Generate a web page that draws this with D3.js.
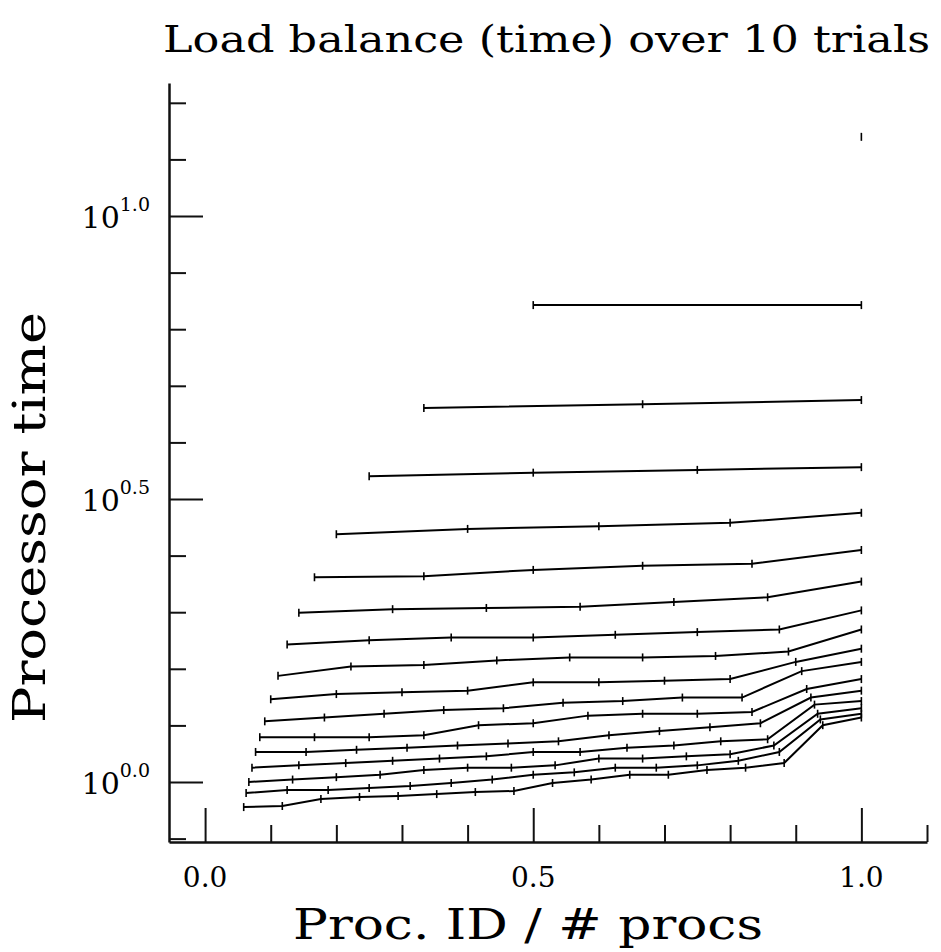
<!DOCTYPE html>
<html>
<head>
<meta charset="utf-8">
<script src="https://cdn.jsdelivr.net/npm/d3@7"></script>
<style>
  body { margin: 0; background: #fff; }
  text { font-family: "DejaVu Serif", serif; fill: #000; }
</style>
</head>
<body>
<svg id="chart" width="941" height="952"></svg>
<script>
// processor counts, one curve per count (x = proc id / # procs)
const procCounts = [1, 2, 3, 4, 5, 6, 7, 8, 9, 10, 11, 12, 13, 14, 15, 16, 17];

// processor times, one array per processor count
const t1 = [13.8];
const t2 = [6.96, 6.96];
const t3 = [4.58, 4.65, 4.73];
const t4 = [3.47, 3.52, 3.56, 3.60];
const t5 = [2.74, 2.80, 2.83, 2.87, 2.99];
const t6 = [2.30, 2.31, 2.37, 2.41, 2.43, 2.57];
const t7 = [1.99, 2.02, 2.03, 2.04, 2.08, 2.12, 2.26];
const t8 = [1.75, 1.78, 1.80, 1.80, 1.82, 1.84, 1.86, 2.01];
const t9 = [1.54, 1.60, 1.61, 1.64, 1.66, 1.66, 1.67, 1.70, 1.86];
const t10 = [1.40, 1.43, 1.44, 1.45, 1.50, 1.50, 1.51, 1.52, 1.63, 1.72];
const t11 = [1.28, 1.30, 1.32, 1.34, 1.35, 1.38, 1.39, 1.41, 1.41, 1.57, 1.63];
const t12 = [1.20, 1.20, 1.20, 1.21, 1.26, 1.27, 1.31, 1.32, 1.32, 1.33, 1.46, 1.52];
const t13 = [1.13, 1.13, 1.14, 1.15, 1.16, 1.17, 1.18, 1.21, 1.23, 1.25, 1.27, 1.41, 1.45];
const t14 = [1.06, 1.07, 1.08, 1.09, 1.10, 1.11, 1.13, 1.13, 1.15, 1.16, 1.18, 1.19, 1.37, 1.39];
const t15 = [1.00, 1.01, 1.02, 1.03, 1.05, 1.06, 1.06, 1.07, 1.10, 1.10, 1.11, 1.12, 1.16, 1.32, 1.35];
const t16 = [0.956, 0.968, 0.968, 0.976, 0.984, 0.996, 1.01, 1.03, 1.04, 1.06, 1.06, 1.07, 1.09, 1.13, 1.29, 1.32];
const t17 = [0.903, 0.907, 0.933, 0.941, 0.945, 0.952, 0.960, 0.964, 0.996, 1.01, 1.03, 1.03, 1.05, 1.06, 1.08, 1.26, 1.30];

const xMajor = [0.0, 0.5, 1.0];
const xMinor = [0.1, 0.2, 0.3, 0.4, 0.6, 0.7, 0.8, 0.9, 1.1];
const xLabels = ['0.0', '0.5', '1.0'];
const yMajorExp = [0.0, 0.5, 1.0];
const yMinorExp = [-0.1, 0.1, 0.2, 0.3, 0.4, 0.6, 0.7, 0.8, 0.9, 1.1, 1.2];
const yLabels = ['0.0', '0.5', '1.0'];

const series = [t1, t2, t3, t4, t5, t6, t7, t8, t9, t10, t11, t12, t13, t14, t15, t16, t17];

const svg = d3.select('#chart');

const x = d3.scaleLinear().domain([-0.055, 1.1]).range([169, 927]);
const y = d3.scaleLog().domain([Math.pow(10, -0.106), Math.pow(10, 1.235)]).range([842, 83]);

const axisColor = '#111';

// x axis: ticks point up into the plot
svg.append('g')
  .attr('transform', 'translate(0,842)')
  .call(d3.axisBottom(x).tickValues(xMinor).tickSize(-17).tickSizeOuter(0).tickFormat(''))
  .call(g => g.select('.domain').attr('stroke-width', 2.5).attr('stroke', axisColor))
  .call(g => g.selectAll('.tick line').attr('stroke-width', 2).attr('stroke', axisColor));

svg.append('g')
  .attr('transform', 'translate(0,842)')
  .call(d3.axisBottom(x).tickValues(xMajor).tickSize(-34).tickSizeOuter(0).tickFormat(''))
  .call(g => g.select('.domain').remove())
  .call(g => g.selectAll('.tick line').attr('stroke-width', 2).attr('stroke', axisColor));

// y axis: ticks point right into the plot
svg.append('g')
  .attr('transform', 'translate(169,0)')
  .call(d3.axisLeft(y).tickValues(yMinorExp.map(e => Math.pow(10, e))).tickSize(-17).tickSizeOuter(0).tickFormat(''))
  .call(g => g.select('.domain').attr('stroke-width', 2.5).attr('stroke', axisColor))
  .call(g => g.selectAll('.tick line').attr('stroke-width', 2).attr('stroke', axisColor));

svg.append('g')
  .attr('transform', 'translate(169,0)')
  .call(d3.axisLeft(y).tickValues(yMajorExp.map(e => Math.pow(10, e))).tickSize(-34).tickSizeOuter(0).tickFormat(''))
  .call(g => g.select('.domain').remove())
  .call(g => g.selectAll('.tick line').attr('stroke-width', 2).attr('stroke', axisColor));

// tick labels
svg.append('g').selectAll('text')
  .data(xMajor)
  .join('text')
    .attr('x', d => x(d))
    .attr('y', 887)
    .attr('text-anchor', 'middle')
    .style('font-size', '28px')
    .text((d, i) => xLabels[i]);

const yLab = svg.append('g').selectAll('text')
  .data(yMajorExp)
  .join('text')
    .attr('x', 150)
    .attr('y', d => y(Math.pow(10, d)) + 12)
    .attr('text-anchor', 'end');
yLab.append('tspan').style('font-size', '30px').text('10');
yLab.append('tspan').attr('dy', -17).style('font-size', '19px').text((d, i) => yLabels[i]);

// curves
const line = d3.line()
  .x((d, i, arr) => x((i + 1) / arr.length))
  .y(d => y(d));

const runs = svg.append('g');
series.forEach((vals, k) => {
  const n = procCounts[k];
  if (vals.length > 1) {
    runs.append('path')
      .attr('d', line(vals))
      .attr('fill', 'none')
      .attr('stroke', '#000')
      .attr('stroke-width', 2);
  }
  runs.append('g').selectAll('line')
    .data(vals)
    .join('line')
      .attr('x1', (d, i) => x((i + 1) / n))
      .attr('x2', (d, i) => x((i + 1) / n))
      .attr('y1', d => y(d) - 4)
      .attr('y2', d => y(d) + 4)
      .attr('stroke', '#000')
      .attr('stroke-width', 1.6);
});

// titles
svg.append('text')
  .attr('x', 163)
  .attr('y', 52)
  .attr('textLength', 767)
  .attr('lengthAdjust', 'spacingAndGlyphs')
  .style('font-size', '38px')
  .text('Load balance (time) over 10 trials');

svg.append('text')
  .attr('x', 293)
  .attr('y', 939)
  .attr('textLength', 470)
  .attr('lengthAdjust', 'spacingAndGlyphs')
  .style('font-size', '43px')
  .text('Proc. ID / # procs');

svg.append('text')
  .attr('transform', 'translate(45,723) rotate(-90)')
  .attr('textLength', 411)
  .attr('lengthAdjust', 'spacingAndGlyphs')
  .style('font-size', '44px')
  .text('Processor time');
</script>
</body>
</html>
